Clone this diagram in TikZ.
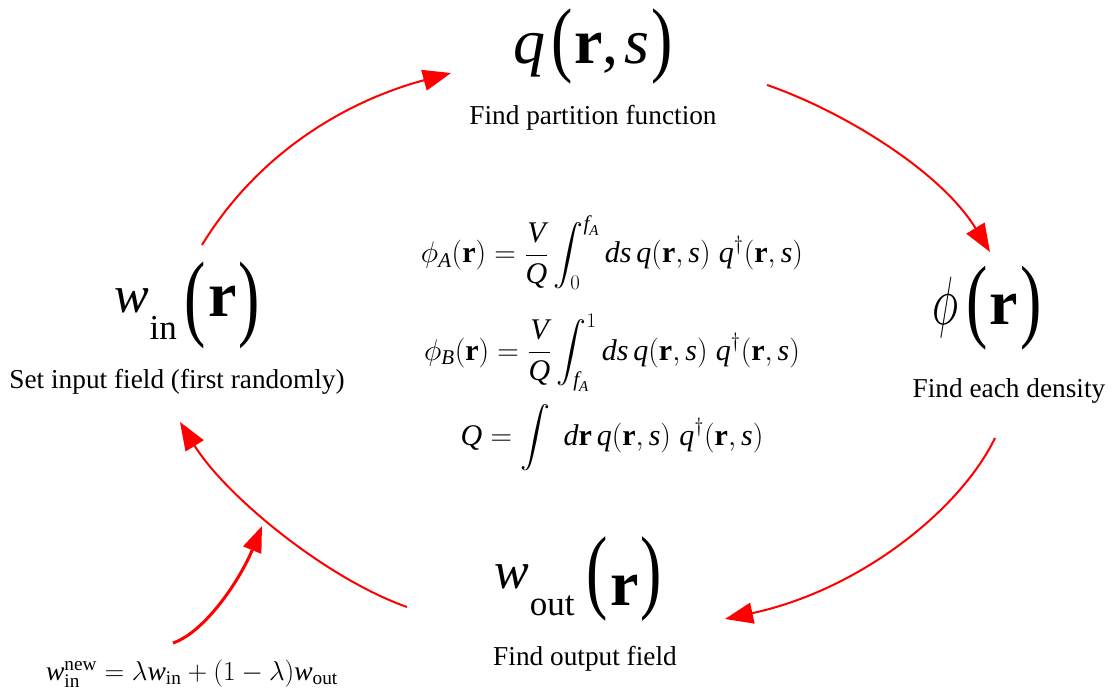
\documentclass[tikz,border=0pt]{standalone}
\usepackage{amsmath}
\usepackage{graphicx}
\usepackage{fontspec}
\setmainfont{Liberation Serif}
\usetikzlibrary{arrows.meta}
\newcommand\ti[1]{\textit{#1}}
\newcommand\bfr{\textbf{r}}
\newcommand\fs[1]{\fontsize{#1}{#1}\selectfont}
% tall thin parenthesis: vertical scale, raise, char
\newcommand\bp[3]{\raisebox{#2}{\scalebox{1}[#1]{\fs{64}#3}}}
\tikzset{
  biglabel/.style={anchor=base, inner sep=0pt},
  captext/.style={anchor=base, inner sep=0pt, font=\fontsize{27.3}{30}\selectfont},
  eqn/.style={anchor=base, inner sep=0pt, font=\fontsize{25}{30}\selectfont},
  flow/.style={draw=red, line width=2pt, -{Triangle[length=28pt,width=21pt]}},
  upd/.style={draw=red, line width=3pt, -{Triangle[length=26pt,width=19pt]}}
}
\begin{document}
\begin{tikzpicture}[x=1pt,y=-1pt]
\useasboundingbox (0,0) rectangle (1113,700);
\fill[white] (0,0) rectangle (1113,700);
% main labels
\node[biglabel] (q) at (593,64) {{\fs{64}\itshape q}\kern6pt\bp{1.3}{-3pt}{(}\kern2pt{\fs{64}\bfseries r}{\fs{64},\kern6pt\itshape s}\kern2pt\bp{1.3}{-3pt}{)}};
\node[captext] (qt) at (593,125) {Find partition function};
\node[biglabel] (phi) at (987,325) {{\fs{24}\scalebox{1.8}[2.75]{$\phi$}}\kern8pt\bp{1.45}{-5.5pt}{(}\kern2pt{\fs{64}\bfseries r}\kern2pt\bp{1.45}{-5.5pt}{)}};
\node[captext] (phit) at (1009,397) {Find each density};
\node[biglabel] (win) at (187,317) {\raisebox{5pt}{\fs{52}\itshape w}\kern1pt\raisebox{-23pt}{\fs{35}in}\kern8pt\bp{1.5}{-11pt}{(}\kern2pt{\fs{64}\bfseries r}\kern2pt\bp{1.5}{-11pt}{)}};
\node[captext] (wint) at (177,388) {Set input field (first randomly)};
\node[biglabel] (wout) at (578,605) {\raisebox{17pt}{\fs{52}\itshape w}\kern1pt\raisebox{-10pt}{\fs{35}out}\kern12pt\bp{1.46}{3.5pt}{(}\kern2pt{\fs{64}\bfseries r}\kern2pt\bp{1.46}{3.5pt}{)}};
\node[captext] (woutt) at (585,665) {Find output field};
% central equations
\node[eqn] (e1) at (612,263) {\scalebox{1.2}{$\phi_{\ti{A}}(\bfr)=\dfrac{\ti{V}}{\ti{Q}}\displaystyle\int_0^{\ti{f}_{\ti{A}}} \ti{ds}\,\ti{q}(\bfr,\ti{s})\;\ti{q}^{\dagger}(\bfr,\ti{s})$}};
\node[eqn] (e2) at (612,360) {\scalebox{1.2}{$\phi_{\ti{B}}(\bfr)=\dfrac{\ti{V}}{\ti{Q}}\displaystyle\int_{\ti{f}_{\ti{A}}}^{1} \ti{ds}\,\ti{q}(\bfr,\ti{s})\;\ti{q}^{\dagger}(\bfr,\ti{s})$}};
\node[eqn] (e3) at (612,445) {\scalebox{1.2}{$\ti{Q}=\displaystyle\int\;\ti{d}\bfr\,\ti{q}(\bfr,\ti{s})\;\ti{q}^{\dagger}(\bfr,\ti{s})$}};
\node[eqn] (up) at (192,680) {\scalebox{1.1}{$\ti{w}_{\mathrm{in}}^{\mathrm{new}}=\lambda \ti{w}_{\mathrm{in}}+(1-\lambda)\ti{w}_{\mathrm{out}}$}};
% arrow end points
\coordinate (a1s) at (202,245); \coordinate (a1e) at (451,73);
\coordinate (a2s) at (767,85);  \coordinate (a2e) at (990,252);
\coordinate (a3s) at (995,438); \coordinate (a3e) at (725,619);
\coordinate (a4s) at (407,607); \coordinate (a4e) at (180,422);
\coordinate (a5s) at (173,643); \coordinate (a5e) at (262,526);
\draw[flow] (a1s) .. controls (260,150) and (350,100) .. (a1e);
\draw[flow] (a2s) .. controls (840,110) and (940,170) .. (a2e);
\draw[flow] (a3s) .. controls (960,510) and (860,590) .. (a3e);
\draw[flow] (a4s) .. controls (325,578) and (225,495) .. (a4e);
\draw[upd] (a5s) .. controls (205,632) and (240,580) .. (a5e);
\end{tikzpicture}
\end{document}
